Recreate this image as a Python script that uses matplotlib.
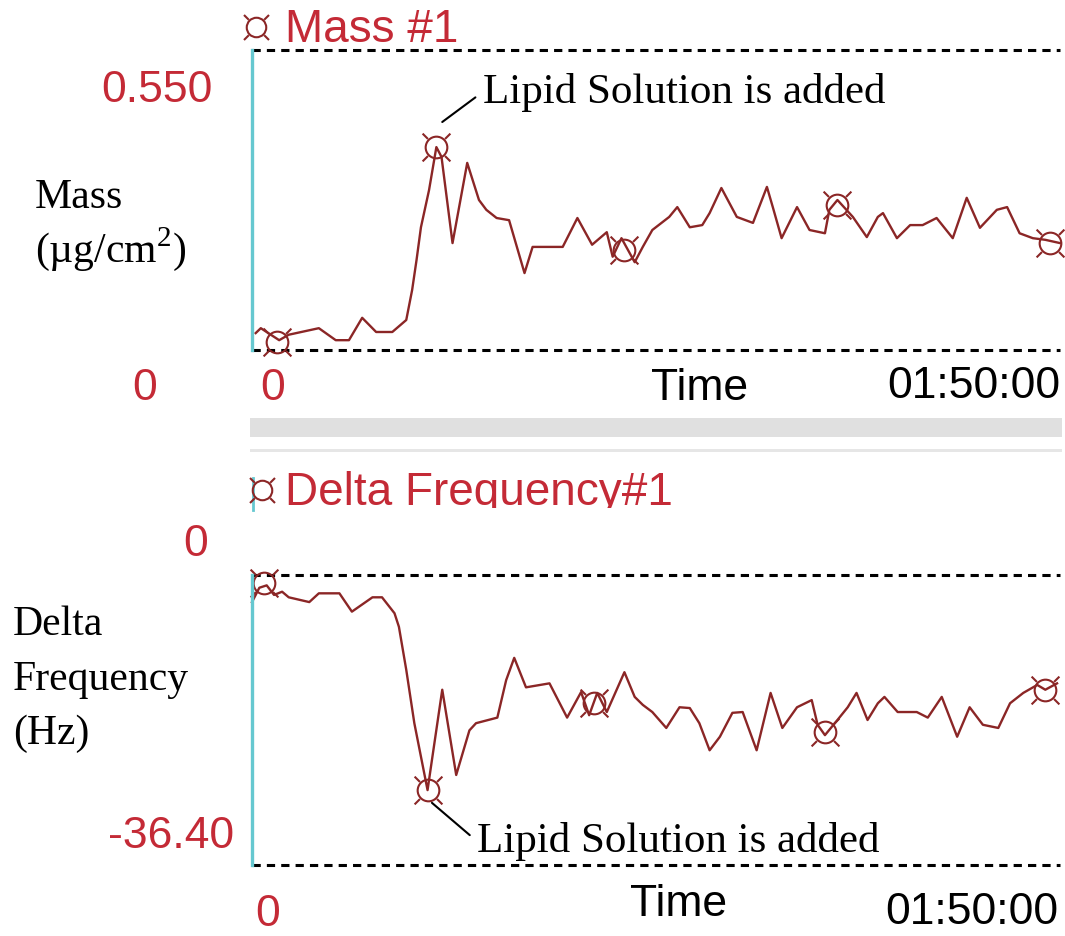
import matplotlib
matplotlib.use("Agg")
import matplotlib.pyplot as plt
from matplotlib.path import Path
from matplotlib.patches import Rectangle
from matplotlib.transforms import Bbox, TransformedBbox

plt.rcParams['mathtext.fontset'] = 'custom'
plt.rcParams['mathtext.rm'] = 'Liberation Serif'

# Mass trace (time in minutes, mass in ug/cm2)
mass_t = [0.5, 1.2, 3.7, 5.0, 9.1, 11.4, 13.2, 15.0, 16.9, 19.1, 21.0, 21.8, 22.4, 23.0, 24.1,
          25.1, 25.8, 27.3, 29.3, 30.9, 31.9, 33.3, 35.0, 37.1, 38.2, 39.5, 42.3, 44.3, 46.3, 48.3,
          49.1, 50.3, 52.1, 53.2, 54.5, 56.8, 57.9, 59.6, 61.3, 62.3, 63.9, 66.0, 68.2, 70.1, 70.9,
          72.1, 74.2, 75.9, 78.0, 78.6, 79.7, 81.8, 83.7, 85.2, 85.9, 87.8, 89.6, 91.3, 93.2, 95.4,
          97.3, 99.1, 101.4, 102.8, 104.5, 106.3, 108.0, 110.0]
mass_v = [0.031, 0.040, 0.018, 0.028, 0.040, 0.018, 0.018, 0.059, 0.033, 0.033, 0.055, 0.110, 0.165,
          0.225, 0.293, 0.372, 0.354, 0.196, 0.343, 0.275, 0.257, 0.242, 0.238, 0.141, 0.189, 0.189,
          0.189, 0.242, 0.193, 0.216, 0.171, 0.205, 0.161, 0.189, 0.220, 0.244, 0.262, 0.225, 0.229,
          0.251, 0.297, 0.244, 0.233, 0.299, 0.262, 0.205, 0.262, 0.220, 0.214, 0.257, 0.275, 0.244,
          0.207, 0.244, 0.251, 0.205, 0.229, 0.229, 0.242, 0.205, 0.279, 0.224, 0.257, 0.262, 0.214,
          0.205, 0.202, 0.196]
mass_mark_t = [3.4, 25.1, 50.7, 79.7, 108.6]
mass_mark_v = [0.015, 0.372, 0.183, 0.266, 0.196]

# Delta frequency trace (Hz)
freq_t = [0.0, 1.0, 2.0, 3.0, 4.1, 5.0, 7.8, 9.1, 11.9, 13.6, 16.4, 17.7, 19.4, 20.0, 21.0,
          22.1, 23.0, 23.9, 24.5, 25.9, 27.8, 29.6, 30.5, 33.4, 34.6, 35.7, 37.3, 40.5, 42.9, 44.8,
          45.9, 47.0, 48.3, 50.7, 52.1, 53.2, 54.5, 56.4, 58.2, 59.6, 60.9, 62.3, 63.7, 65.4, 66.8,
          68.7, 70.6, 72.2, 74.2, 76.2, 77.0, 78.0, 79.7, 81.1, 82.3, 83.8, 85.2, 86.1, 87.9, 90.5,
          92.0, 93.9, 96.0, 97.7, 99.5, 101.6, 103.2, 105.0, 106.9, 108.0, 109.6]
freq_v = [-3.4, -1.6, -1.3, -2.5, -2.1, -2.8, -3.4, -2.3, -2.3, -4.6, -2.8, -2.8, -4.8, -6.5, -11.9,
          -18.6, -22.8, -27.0, -23.2, -14.4, -25.1, -19.5, -18.6, -17.9, -13.2, -10.4, -14.1, -13.6,
          -17.9, -14.7, -17.6, -14.8, -17.2, -12.2, -15.3, -16.3, -17.2, -19.2, -16.6, -16.7, -18.6,
          -22.0, -20.3, -17.3, -17.2, -22.0, -14.8, -19.2, -16.6, -15.7, -18.8, -20.1, -18.2, -16.6,
          -14.8, -18.2, -16.1, -15.3, -17.2, -17.2, -17.9, -15.3, -20.3, -16.6, -18.8, -19.2, -16.1,
          -14.8, -13.8, -14.4, -13.6]
freq_mark_t = [1.6, 23.9, 46.6, 78.0, 108.0]
freq_mark_v = [-1.0, -27.0, -16.1, -19.7, -14.4]

mass_range = [0, 0.550]
freq_range = [-36.40, 0]
t_range = [0, 110]

W, H = 1065, 936
LINE = '#8b2626'
RED = '#c42a36'
CYAN = '#66c8d0'
SANS = 'Liberation Sans'
SERIF = 'Liberation Serif'

# circle marker with four short diagonal ticks
circ = Path.unit_circle()
circ = Path(circ.vertices * 0.78, circ.codes)
ticks = [Path([(0.62 * sx, 0.62 * sy), (sx, sy)], [Path.MOVETO, Path.LINETO])
         for sx in (-1, 1) for sy in (-1, 1)]
mark = Path.make_compound_path(circ, *ticks)

fig = plt.figure(figsize=(W / 100, H / 100), dpi=100)

# background layer in pixel coordinates
bg = fig.add_axes([0, 0, 1, 1])
bg.set_xlim(0, W)
bg.set_ylim(H, 0)
bg.axis('off')

bg.add_patch(Rectangle((250, 418), 812, 19, color='#e0e0e0', lw=0))
bg.add_patch(Rectangle((250, 449), 812, 3, color='#e6e6e6', lw=0))
bg.plot([253, 253], [478, 510], color=CYAN, lw=2)

bg.plot([256], [27], marker=mark, ms=18, mfc='none', mec=LINE, mew=1.5)
bg.plot([262], [490], marker=mark, ms=18, mfc='none', mec=LINE, mew=1.5)
bg.text(285, 30, 'Mass #1', color=RED, family=SANS, fontsize=33, va='center', ha='left')
t2 = bg.text(285, 493, 'Delta Frequency#1', color=RED, family=SANS, fontsize=33,
             va='center', ha='left')
t2.set_clip_box(TransformedBbox(Bbox([[280, 460], [700, 508]]), bg.transData))
t2.set_clip_on(True)

# value labels
bg.text(213, 91, '0.550', color=RED, family=SANS, fontsize=32, va='center', ha='right')
bg.text(145, 388, '0', color=RED, family=SANS, fontsize=32, va='center', ha='center')
bg.text(196, 545, '0', color=RED, family=SANS, fontsize=32, va='center', ha='center')
bg.text(234, 836, '-36.40', color=RED, family=SANS, fontsize=32, va='center', ha='right')
bg.text(273, 388, '0', color=RED, family=SANS, fontsize=32, va='center', ha='center')
bg.text(268, 915, '0', color=RED, family=SANS, fontsize=32, va='center', ha='center')
bg.text(700, 388, 'Time', color='black', family=SANS, fontsize=32, va='center', ha='center')
bg.text(679, 905, 'Time', color='black', family=SANS, fontsize=32, va='center', ha='center')
bg.text(1060, 386, '01:50:00', color='black', family=SANS, fontsize=32, va='center', ha='right')
bg.text(1058, 913, '01:50:00', color='black', family=SANS, fontsize=32, va='center', ha='right')

# axis titles
bg.text(35, 208, 'Mass', family=SERIF, fontsize=30, va='baseline', ha='left')
bg.text(35, 262, '(µg/cm$^{2}$)', family=SERIF, fontsize=30, va='baseline', ha='left')
bg.text(13, 635, 'Delta', family=SERIF, fontsize=30, va='baseline', ha='left')
bg.text(13, 690, 'Frequency', family=SERIF, fontsize=30, va='baseline', ha='left')
bg.text(13, 744, '(Hz)', family=SERIF, fontsize=30, va='baseline', ha='left')


def panel(top, bottom, ylim):
    ax = fig.add_axes([252 / W, 1 - bottom / H, 808 / W, (bottom - top) / H])
    ax.set_facecolor('none')
    ax.set_xlim(t_range)
    ax.set_ylim(ylim)
    for s in ['top', 'right', 'bottom']:
        ax.spines[s].set_visible(False)
    ax.spines['left'].set_color(CYAN)
    ax.spines['left'].set_linewidth(2.4)
    ax.set_xticks([])
    ax.set_yticks([])
    for y in ylim:
        ax.axhline(y, color='black', lw=2.2, ls=(0, (2.7, 2.0)), clip_on=False)
    return ax


ax1 = panel(50, 350, mass_range)
ax1.plot(mass_t, mass_v, color=LINE, lw=1.7, clip_on=False)
ax1.plot(mass_mark_t, mass_mark_v, ls='none', marker=mark, ms=20, mfc='none', mec=LINE,
         mew=1.5, clip_on=False)
ax1.annotate('Lipid Solution is added', xy=(25.9, 0.418), xytext=(31.4, 0.473),
             family=SERIF, fontsize=31, va='center', ha='left',
             arrowprops=dict(arrowstyle='-', color='black', lw=1.5, shrinkA=4, shrinkB=0,
                             relpos=(0, 0.5)))

ax2 = panel(575, 865, freq_range)
ax2.plot(freq_t, freq_v, color=LINE, lw=1.7, clip_on=False)
ax2.plot(freq_mark_t, freq_mark_v, ls='none', marker=mark, ms=20, mfc='none', mec=LINE,
         mew=1.5, clip_on=False)
ax2.annotate('Lipid Solution is added', xy=(24.5, -28.6), xytext=(30.6, -33.4),
             family=SERIF, fontsize=31, va='center', ha='left',
             arrowprops=dict(arrowstyle='-', color='black', lw=1.5, shrinkA=4, shrinkB=0,
                             relpos=(0, 0.5)))

fig.savefig('out.png', dpi=100)
